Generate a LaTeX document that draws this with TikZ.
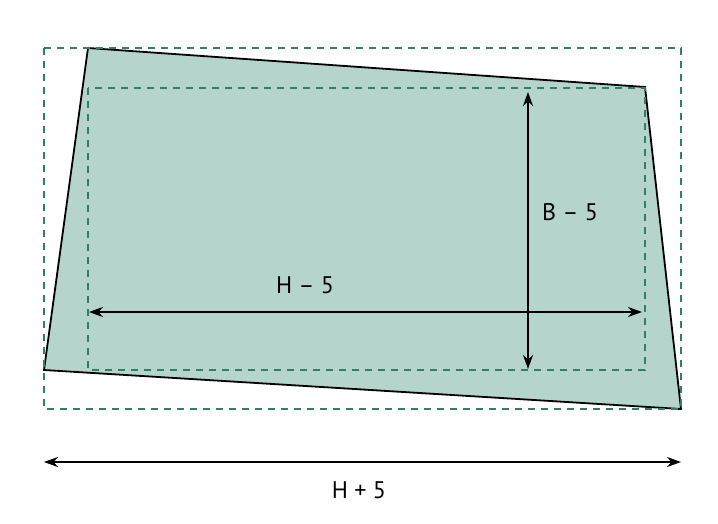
\documentclass[tikz,border=0pt]{standalone}
\usepackage{fontspec}
\setmainfont{PT Sans}
\usetikzlibrary{arrows.meta}
\definecolor{plotfill}{RGB}{180,212,204}
\definecolor{guideline}{RGB}{48,128,104}
\tikzset{
  plot/.style={draw=black,line width=1.8pt,fill=plotfill,line join=miter},
  guide/.style={draw=guideline,line width=2.2pt,dash pattern=on 7pt off 6pt},
  dim/.style={{Stealth[length=14pt,width=10pt]}-{Stealth[length=14pt,width=10pt]},line width=1.8pt},
  dimlabel/.style={font=\fontsize{24}{28}\selectfont,inner sep=0pt},
}

\begin{document}
\begin{tikzpicture}[x=1pt,y=-1pt]
  \useasboundingbox (0,0) rectangle (718,524);
  % plot corners
  \coordinate (nw) at (88,48);
  \coordinate (ne) at (645,87);
  \coordinate (se) at (681,409);
  \coordinate (sw) at (44,370);
  \filldraw[plot] (nw) -- (ne) -- (se) -- (sw) -- cycle;
  % outer and inner rectangles
  \coordinate (outernw) at (44,48);
  \coordinate (outerse) at (681,409);
  \coordinate (innernw) at (88,88);
  \coordinate (innerse) at (645,370);
  \draw[guide] (outernw) rectangle (outerse);
  \draw[guide] (innernw) rectangle (innerse);
  % dimension arrows
  \coordinate (btop) at (528,92);
  \coordinate (bbot) at (528,369);
  \coordinate (hleft) at (89,312);
  \coordinate (hright) at (642,312);
  \coordinate (tleft) at (44,462);
  \coordinate (tright) at (681,462);
  \draw[dim] (btop) -- (bbot);
  \draw[dim] (hleft) -- (hright);
  \draw[dim] (tleft) -- (tright);
  \node[dimlabel] (bminus) at (570,212) {B – 5};
  \node[dimlabel] (hminus) at (305,285) {H – 5};
  \node[dimlabel] (hplus) at (359,490) {H + 5};
\end{tikzpicture}
\end{document}
